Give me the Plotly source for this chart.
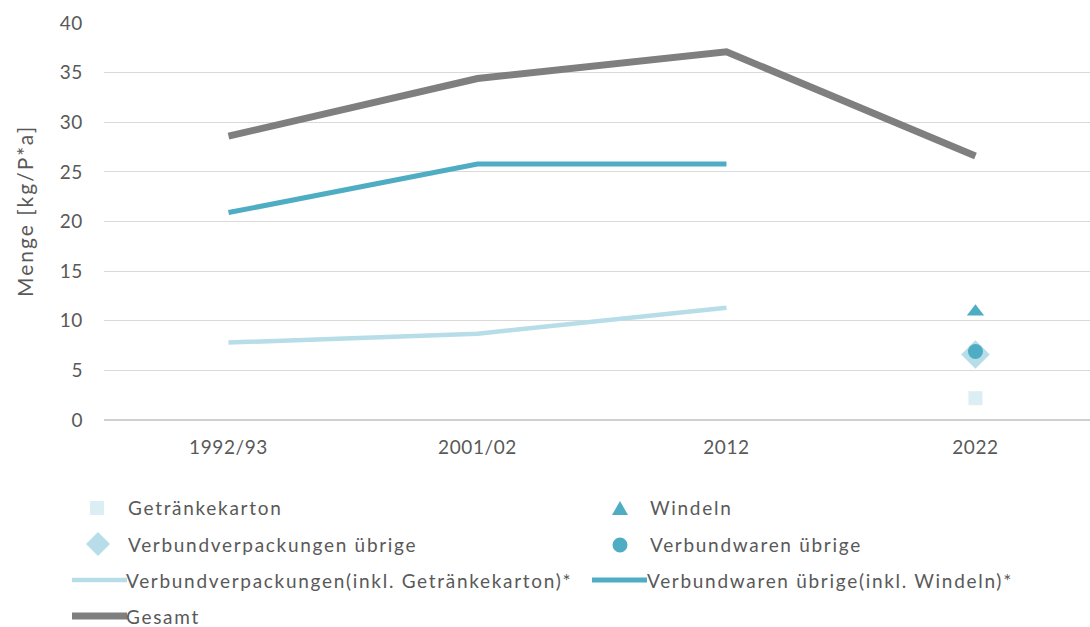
import plotly.graph_objects as go

# Categories (survey years)
years = ["1992/93", "2001/02", "2012", "2022"]

# Time series, kg per person and year
gesamt = [28.6, 34.4, 37.1, 26.6]
verbundwaren_inkl_windeln = [20.9, 25.8, 25.8, None]
verbundverpackungen_inkl_gk = [7.8, 8.7, 11.3, None]

# 2022 breakdown
year_2022 = ["2022"]
getraenkekarton = [2.2]
windeln = [10.9]
verbundverpackungen_uebrige = [6.6]
verbundwaren_uebrige = [6.9]

y_ticks = [0, 5, 10, 15, 20, 25, 30, 35, 40]

GRAY = "#7f7f7f"
TEAL = "#4fadc3"
LIGHT = "#b7dde8"
PALE = "#dbeef3"
TEXT = "#595959"
FONT = "Lato"

W, H = 1090, 627
L, R, T, B = 104, 0, 23, 207
PW, PH = W - L - R, H - T - B


def px(x):
    return (x - L) / PW


def py(y):
    return (H - B - y) / PH


def spaced(text, sp):
    return f'<span style="letter-spacing:{sp}px">{text}</span>'


fig = go.Figure()

fig.add_trace(go.Scatter(x=years, y=verbundverpackungen_inkl_gk, mode="lines",
                         line=dict(color=LIGHT, width=4.5),
                         name="Verbundverpackungen(inkl. Getränkekarton)*"))
fig.add_trace(go.Scatter(x=years, y=verbundwaren_inkl_windeln, mode="lines",
                         line=dict(color=TEAL, width=5),
                         name="Verbundwaren übrige(inkl. Windeln)*"))
fig.add_trace(go.Scatter(x=years, y=gesamt, mode="lines",
                         line=dict(color=GRAY, width=7), name="Gesamt"))

fig.add_trace(go.Scatter(x=year_2022, y=getraenkekarton, mode="markers",
                         marker=dict(symbol="square", size=14, color=PALE),
                         name="Getränkekarton"))
fig.add_trace(go.Scatter(x=year_2022, y=verbundverpackungen_uebrige, mode="markers",
                         marker=dict(symbol="diamond", size=22, color=LIGHT),
                         name="Verbundverpackungen übrige"))
fig.add_trace(go.Scatter(x=year_2022, y=verbundwaren_uebrige, mode="markers",
                         marker=dict(symbol="circle", size=15, color=TEAL),
                         name="Verbundwaren übrige"))
fig.add_trace(go.Scatter(x=year_2022, y=windeln, mode="markers",
                         marker=dict(symbol="triangle-up", size=15, color=TEAL),
                         name="Windeln"))

# Legend drawn as shapes + text below the plot
shapes = []
annotations = []


def legend_text(x, y, text):
    annotations.append(dict(x=px(x), y=py(y), xref="paper", yref="paper",
                            text=spaced(text, 1.7), showarrow=False, xanchor="left",
                            yanchor="middle", font=dict(family=FONT, size=19, color=TEXT)))


def legend_line(x0, x1, y, color, width):
    shapes.append(dict(type="line", xref="paper", yref="paper",
                       x0=px(x0), x1=px(x1), y0=py(y), y1=py(y),
                       line=dict(color=color, width=width)))


def legend_path(points, color):
    d = "M" + " L".join(f"{px(a)},{py(b)}" for a, b in points) + " Z"
    shapes.append(dict(type="path", xref="paper", yref="paper", path=d,
                       fillcolor=color, line=dict(width=0)))


# Row 1
legend_path([(90, 501), (104, 501), (104, 515), (90, 515)], PALE)
legend_text(126, 507, "Getränkekarton")
legend_path([(620, 501), (628, 515), (612, 515)], TEAL)
legend_text(648, 507, "Windeln")
# Row 2
legend_path([(98, 532), (110, 544), (98, 556), (86, 544)], LIGHT)
legend_text(126, 544, "Verbundverpackungen übrige")
shapes.append(dict(type="circle", xref="paper", yref="paper",
                   x0=px(612.5), x1=px(627.5), y0=py(537.5), y1=py(552.5),
                   fillcolor=TEAL, line=dict(width=0)))
legend_text(648, 544, "Verbundwaren übrige")
# Row 3
legend_line(72, 127, 580, LIGHT, 4.5)
legend_text(124, 580, "Verbundverpackungen(inkl. Getränkekarton)*")
legend_line(592, 647, 580, TEAL, 5)
legend_text(645, 580, "Verbundwaren übrige(inkl. Windeln)*")
# Row 4
legend_line(72, 127, 616, GRAY, 7)
legend_text(124, 616, "Gesamt")

# Y axis title
annotations.append(dict(x=px(25), y=py(211), xref="paper", yref="paper",
                        text=spaced("Menge [kg/P*a]", 2), textangle=-90, showarrow=False,
                        xanchor="center", yanchor="middle",
                        font=dict(family=FONT, size=21, color=TEXT)))

fig.update_layout(
    width=W, height=H,
    margin=dict(l=L, r=R, t=T, b=B),
    paper_bgcolor="white", plot_bgcolor="white",
    showlegend=False,
    font=dict(family=FONT, size=19, color=TEXT),
    shapes=shapes, annotations=annotations,
    xaxis=dict(type="category", categoryorder="array", categoryarray=years,
               tickvals=years, ticktext=[spaced(t, 0.6) for t in years],
               range=[-0.5, 3.46], showgrid=False, showline=False, zeroline=False,
               ticks="", ticklabelstandoff=14,
               tickfont=dict(family=FONT, size=19, color=TEXT)),
    yaxis=dict(range=[0, 40], tickvals=y_ticks,
               ticktext=[spaced(str(v), 0.6) for v in y_ticks], showgrid=True,
               gridcolor="#d9d9d9", gridwidth=1.3, zeroline=True,
               zerolinecolor="#d0d0d0", zerolinewidth=1.5, showline=False,
               ticks="", ticklabelstandoff=20,
               tickfont=dict(family=FONT, size=19, color=TEXT)),
)

fig.write_html("out.html")
